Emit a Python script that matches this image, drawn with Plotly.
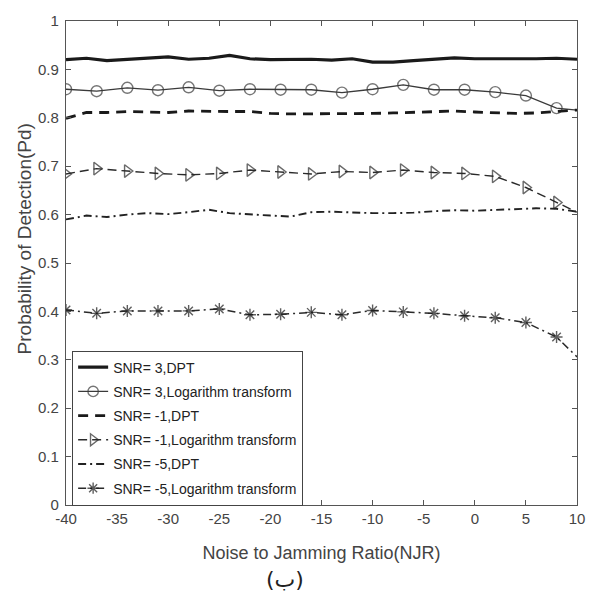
import plotly.graph_objects as go

# Noise to Jamming Ratio axis (dB)
njr_dense = [-40, -38, -36, -34, -32, -30, -28, -26, -24, -22, -20, -18, -16,
             -14, -12, -10, -8, -6, -4, -2, 0, 2, 4, 6, 8, 10]
njr_marked = [-40, -37, -34, -31, -28, -25, -22, -19, -16, -13, -10, -7, -4,
              -1, 2, 5, 8, 10]

# Probability of detection, DPT detector
pd_dpt_snr3 = [0.920, 0.923, 0.918, 0.921, 0.923, 0.926, 0.921, 0.923, 0.929,
               0.922, 0.920, 0.920, 0.921, 0.919, 0.922, 0.915, 0.915, 0.918,
               0.921, 0.924, 0.922, 0.922, 0.921, 0.922, 0.923, 0.921]
pd_dpt_snrm1 = [0.799, 0.811, 0.811, 0.813, 0.812, 0.811, 0.814, 0.813, 0.813,
                0.813, 0.809, 0.808, 0.808, 0.808, 0.809, 0.809, 0.810, 0.811,
                0.813, 0.814, 0.812, 0.811, 0.809, 0.810, 0.813, 0.816]
pd_dpt_snrm5 = [0.590, 0.598, 0.595, 0.600, 0.603, 0.601, 0.605, 0.610, 0.603,
                0.600, 0.598, 0.596, 0.605, 0.606, 0.604, 0.603, 0.603, 0.604,
                0.607, 0.609, 0.608, 0.610, 0.612, 0.613, 0.612, 0.606]

# Probability of detection, logarithm transform detector
pd_log_snr3 = [0.859, 0.855, 0.862, 0.857, 0.863, 0.856, 0.859, 0.858, 0.858,
               0.852, 0.859, 0.868, 0.858, 0.858, 0.853, 0.846, 0.820, 0.816]
pd_log_snrm1 = [0.684, 0.695, 0.690, 0.685, 0.682, 0.685, 0.692, 0.688, 0.684,
                0.689, 0.687, 0.692, 0.687, 0.685, 0.679, 0.656, 0.625, 0.605]
pd_log_snrm5 = [0.403, 0.396, 0.401, 0.401, 0.401, 0.405, 0.393, 0.394, 0.398,
                0.393, 0.402, 0.399, 0.396, 0.391, 0.387, 0.377, 0.347, 0.306]

labels = ["SNR= 3,DPT", "SNR= 3,Logarithm transform", "SNR= -1,DPT",
          "SNR= -1,Logarithm transform", "SNR= -5,DPT",
          "SNR= -5,Logarithm transform"]

x_ticks = [-40, -35, -30, -25, -20, -15, -10, -5, 0, 5, 10]
y_ticks = [0, 0.1, 0.2, 0.3, 0.4, 0.5, 0.6, 0.7, 0.8, 0.9, 1]

FONT = "Liberation Sans, Arial, sans-serif"
INK = "#1a1a1a"
TEXT = "#444444"


def marker_sizes(n, size):
    # the final point at NJR = 10 carries the line only
    return [size] * (n - 1) + [0]


fig = go.Figure()

fig.add_trace(go.Scatter(
    x=njr_dense, y=pd_dpt_snr3, name=labels[0], mode="lines",
    line=dict(color=INK, width=3.2), legendgroup="a"))

fig.add_trace(go.Scatter(
    x=njr_marked, y=pd_log_snr3, name=labels[1], mode="lines+markers",
    line=dict(color="#3a3a3a", width=1.3),
    marker=dict(symbol="circle-open", size=marker_sizes(len(njr_marked), 11),
                color="#3a3a3a", line=dict(width=1.4)),
    legendgroup="b"))

fig.add_trace(go.Scatter(
    x=njr_dense, y=pd_dpt_snrm1, name=labels[2], mode="lines",
    line=dict(color=INK, width=2.8, dash="10px,7px"), legendgroup="c"))

fig.add_trace(go.Scatter(
    x=njr_marked, y=pd_log_snrm1, name=labels[3], mode="lines+markers",
    line=dict(color="#2a2a2a", width=1.4, dash="9px,5px"),
    marker=dict(symbol="triangle-right-open",
                size=marker_sizes(len(njr_marked), 11),
                color="#2a2a2a", line=dict(width=1.4)),
    legendgroup="d"))

fig.add_trace(go.Scatter(
    x=njr_dense, y=pd_dpt_snrm5, name=labels[4], mode="lines",
    line=dict(color="#222222", width=1.9, dash="8px,4px,2px,4px"),
    legendgroup="e"))

fig.add_trace(go.Scatter(
    x=njr_marked, y=pd_log_snrm5, name=labels[5], mode="lines+markers",
    line=dict(color="#2a2a2a", width=1.5, dash="8px,4px,2px,4px"),
    marker=dict(symbol="asterisk-open", size=marker_sizes(len(njr_marked), 10),
                color="#1a1a1a", line=dict(width=1.4, color="#1a1a1a")),
    legendgroup="f"))

axis_common = dict(
    showgrid=False, zeroline=False, showline=True, linecolor="#555555",
    linewidth=1.2, mirror="ticks", ticks="inside", ticklen=5,
    tickcolor="#555555", tickfont=dict(family=FONT, size=15, color=TEXT),
)

fig.update_layout(
    width=597, height=593,
    margin=dict(l=66, r=14, t=16, b=88),
    paper_bgcolor="white", plot_bgcolor="white",
    font=dict(family=FONT, color=TEXT),
    xaxis=dict(range=[-40, 10], tickvals=x_ticks,
               ticktext=[str(v) for v in x_ticks],
               title=dict(text="Noise to Jamming Ratio(NJR)",
                          font=dict(family=FONT, size=18, color=TEXT),
                          standoff=20),
               **axis_common),
    yaxis=dict(range=[0, 1], tickvals=y_ticks,
               ticktext=["0" if v == 0 else ("1" if v == 1 else f"{v:.1f}")
                         for v in y_ticks],
               ticklabelstandoff=3,
               **axis_common),
    legend=dict(x=0.012, y=0.319, xanchor="left", yanchor="top",
                bgcolor="white", bordercolor="#444444", borderwidth=1,
                font=dict(family=FONT, size=14, color="#222222"),
                tracegroupgap=3, itemwidth=30),
    showlegend=True,
    annotations=[
        dict(text="Probability of Detection(Pd)", xref="paper", yref="paper",
             x=-0.081, y=0.550, xanchor="center", yanchor="middle",
             textangle=-90, showarrow=False,
             font=dict(family=FONT, size=19, color=TEXT)),
        dict(text="(ب)", xref="paper", yref="paper", x=0.429,
             y=-0.153, xanchor="center", yanchor="middle",
             showarrow=False,
             font=dict(family="DejaVu Sans, Noto Sans", size=22,
                       color="#222222")),
    ],
)

fig.write_html("out.html")
